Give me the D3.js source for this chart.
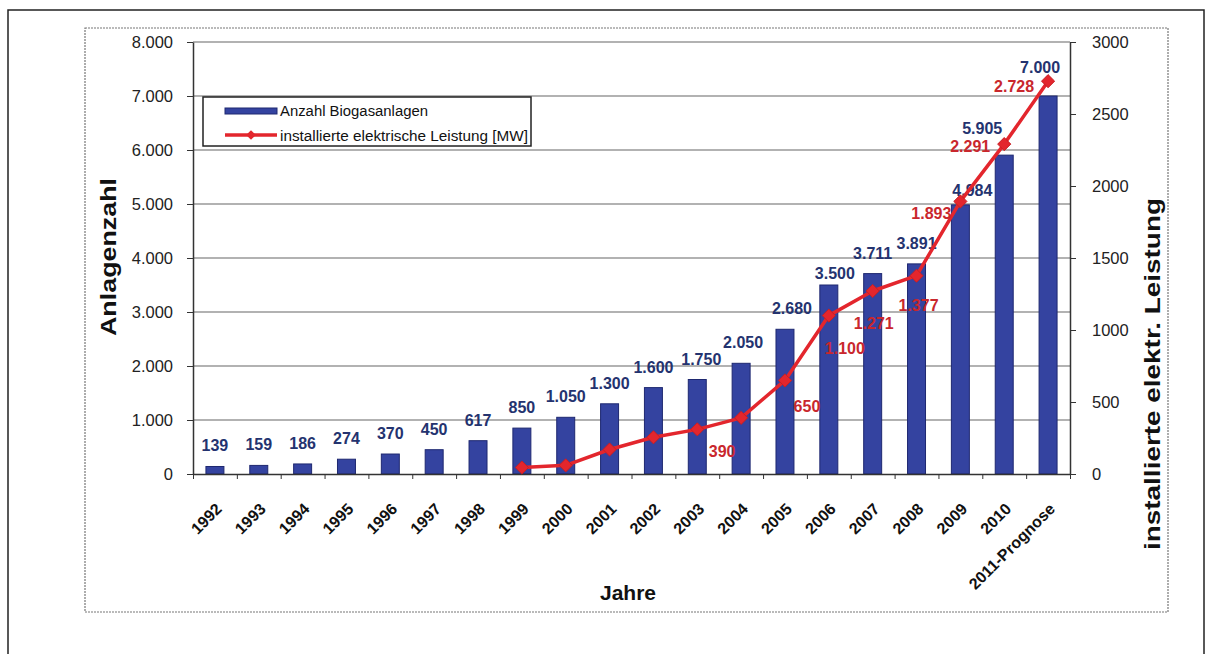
<!DOCTYPE html>
<html><head><meta charset="utf-8">
<script src="https://cdn.jsdelivr.net/npm/d3@7"></script>
<style>
html,body{margin:0;padding:0;background:#fff;}
svg{display:block;font-family:"Liberation Sans",Arial,sans-serif;}
</style></head>
<body>
<svg id="chart" width="1213" height="654"></svg>
<script>
// ---- data ----
const categories = ["1992","1993","1994","1995","1996","1997","1998","1999","2000","2001","2002","2003","2004","2005","2006","2007","2008","2009","2010","2011-Prognose"];
const anlagen = [139,159,186,274,370,450,617,850,1050,1300,1600,1750,2050,2680,3500,3711,3891,4984,5905,7000];
const leistung = [null,null,null,null,null,null,null,45,60,170,255,310,390,650,1100,1271,1377,1893,2291,2728];
const leistungShown = [false,false,false,false,false,false,false,false,false,false,false,false,true,true,true,true,true,true,true,true];
const leftTicks = [0,1000,2000,3000,4000,5000,6000,7000,8000];
const rightTicks = [0,500,1000,1500,2000,2500,3000];
const seriesNames = ["Anzahl Biogasanlagen","installierte elektrische Leistung [MW]"];

// label nudges (layout only)
const barLabelDx = [0,0,0,0,0,0,0,0,0,0,0,4,2,7,6,0,0,12,-22,-8];
const barLabelDy = [0,0,0,0,0,0,0,0,0,0,0,0,0,0,9,0,0,6,-6,-8];
const lineLabelDx = [0,0,0,0,0,0,0,0,0,0,0,0,-19,22,16,1,2,-29,-34,-34];
const lineLabelDy = [0,0,0,0,0,0,0,0,0,0,0,0,33,26,32,32,29,12,2,5];

const de = d3.formatLocale({decimal:",",thousands:".",grouping:[3],currency:["","€"]});
const fmt = de.format(",");

const svg = d3.select("#chart");
const L = 193, R = 1070, T = 42, B = 474;
const FONT = "Liberation Sans, Arial, sans-serif";

// outer borders
svg.append("rect").attr("x",8).attr("y",10).attr("width",1196).attr("height",660)
  .attr("fill","none").attr("stroke","#222").attr("stroke-width",1.5);
svg.append("rect").attr("x",85).attr("y",28).attr("width",1083).attr("height",584)
  .attr("fill","none").attr("stroke","#777").attr("stroke-width",1.2).attr("stroke-dasharray","2,1");

const x = d3.scaleBand().domain(categories).range([L,R]).paddingInner(0.59).paddingOuter(0.295);
const xi = d3.scaleLinear().domain([0,categories.length]).range([L,R]);
const yL = d3.scaleLinear().domain([0,8000]).range([B,T]);
const yR = d3.scaleLinear().domain([0,3000]).range([B,T]);
const cx = c => x(c) + x.bandwidth()/2;

// gridlines
svg.append("g").selectAll("line").data(leftTicks.filter(d=>d>0)).join("line")
  .attr("x1",L).attr("x2",R).attr("y1",d=>yL(d)).attr("y2",d=>yL(d))
  .attr("stroke","#666").attr("stroke-width",1.2);

// bars
svg.append("g").selectAll("rect").data(anlagen).join("rect")
  .attr("x",(d,i)=>x(categories[i])).attr("width",x.bandwidth())
  .attr("y",d=>yL(d)).attr("height",d=>B-yL(d))
  .attr("fill","#3443a0").attr("stroke","#1e2870").attr("stroke-width",1);

// left axis
const gL = svg.append("g").attr("transform",`translate(${L},0)`)
  .call(d3.axisLeft(yL).tickValues(leftTicks).tickFormat(fmt).tickSize(6).tickSizeOuter(0).tickPadding(14));
gL.select(".domain").attr("stroke","#333").attr("stroke-width",1.5);
gL.selectAll(".tick line").attr("stroke","#333");
gL.selectAll(".tick text").attr("font-size",16.5).attr("fill","#222").attr("font-family",FONT);

// right axis
const gR = svg.append("g").attr("transform",`translate(${R},0)`)
  .call(d3.axisRight(yR).tickValues(rightTicks).tickFormat(d3.format("d")).tickSize(6).tickSizeOuter(0).tickPadding(16));
gR.select(".domain").attr("stroke","#333").attr("stroke-width",1.5);
gR.selectAll(".tick line").attr("stroke","#333");
gR.selectAll(".tick text").attr("font-size",16.5).attr("fill","#222").attr("font-family",FONT);

// bottom axis: tick marks at band boundaries
const gB = svg.append("g").attr("transform",`translate(0,${B})`)
  .call(d3.axisBottom(xi).tickValues(d3.range(0,categories.length+1)).tickFormat("").tickSize(5).tickSizeOuter(0));
gB.select(".domain").attr("stroke","#333").attr("stroke-width",1.5);
gB.selectAll(".tick line").attr("stroke","#333");

// bottom labels laid out along 45-degree guide paths
const k = Math.SQRT1_2, span = 200;
const defs = svg.append("defs");
defs.selectAll("path").data(categories).join("path")
  .attr("id",(c,i)=>"xlp"+i)
  .attr("d",c=>{const ex=cx(c)+8, ey=B+36; return `M${ex-span*k},${ey+span*k}L${ex},${ey}`;});
svg.append("g").selectAll("text").data(categories).join("text")
  .attr("font-size",16).attr("font-weight","bold").attr("fill","#111").attr("font-family",FONT)
  .attr("text-anchor","end")
  .append("textPath").attr("href",(c,i)=>"#xlp"+i).attr("startOffset","100%")
  .text(c=>c);

// bar labels
svg.append("g").selectAll("text").data(anlagen).join("text")
  .attr("x",(d,i)=>cx(categories[i])+barLabelDx[i])
  .attr("y",(d,i)=>yL(d)-15+barLabelDy[i])
  .attr("text-anchor","middle").attr("font-size",16).attr("font-weight","bold")
  .attr("fill","#24336f").text(d=>fmt(d));

// line
const pts = leistung.map((v,i)=>({v,i})).filter(p=>p.v!=null);
const line = d3.line().x(p=>cx(categories[p.i])).y(p=>yR(p.v));
svg.append("path").datum(pts).attr("d",line).attr("fill","none")
  .attr("stroke","#e3262d").attr("stroke-width",3.5).attr("stroke-linejoin","round");
const diamond = d3.symbol().type(d3.symbolDiamond2).size(110);
svg.append("g").selectAll("path").data(pts).join("path")
  .attr("d",diamond)
  .attr("transform",p=>`translate(${cx(categories[p.i])},${yR(p.v)})`)
  .attr("fill","#e3262d").attr("stroke","#c81e24").attr("stroke-width",1);

// line labels
svg.append("g").selectAll("text").data(pts.filter(p=>leistungShown[p.i])).join("text")
  .attr("x",p=>cx(categories[p.i])+lineLabelDx[p.i])
  .attr("y",p=>yR(p.v)+lineLabelDy[p.i]+6)
  .attr("text-anchor","middle").attr("font-size",16).attr("font-weight","bold")
  .attr("fill","#c9272d").text(p=>fmt(p.v));

// legend
const lg = svg.append("g");
lg.append("rect").attr("x",203).attr("y",97).attr("width",328).attr("height",49)
  .attr("fill","#fff").attr("stroke","#222").attr("stroke-width",1.5);
lg.append("rect").attr("x",225).attr("y",108).attr("width",52).attr("height",6)
  .attr("fill","#3443a0").attr("stroke","#1e2870").attr("stroke-width",1);
lg.append("line").attr("x1",225).attr("x2",277).attr("y1",135).attr("y2",135)
  .attr("stroke","#e3262d").attr("stroke-width",3.5);
lg.append("path").attr("d",d3.symbol().type(d3.symbolDiamond2).size(60))
  .attr("transform","translate(251,135)").attr("fill","#e3262d");
lg.append("text").attr("x",280).attr("y",116).attr("font-size",14).attr("fill","#111")
  .attr("textLength",148).attr("lengthAdjust","spacingAndGlyphs").text(seriesNames[0]);
lg.append("text").attr("x",280).attr("y",141).attr("font-size",14).attr("fill","#111")
  .attr("textLength",248).attr("lengthAdjust","spacingAndGlyphs").text(seriesNames[1]);

// axis titles
svg.append("text").attr("transform","translate(116,257) rotate(-90)")
  .attr("text-anchor","middle").attr("font-size",22).attr("font-weight","bold").attr("fill","#111")
  .attr("textLength",158).attr("lengthAdjust","spacingAndGlyphs").text("Anlagenzahl");
svg.append("text").attr("transform","translate(1160,374) rotate(-90)")
  .attr("text-anchor","middle").attr("font-size",22).attr("font-weight","bold").attr("fill","#111")
  .attr("textLength",352).attr("lengthAdjust","spacingAndGlyphs").text("installierte elektr. Leistung");
svg.append("text").attr("x",628).attr("y",600)
  .attr("text-anchor","middle").attr("font-size",21).attr("font-weight","bold").attr("fill","#111")
  .text("Jahre");
</script>
</body></html>
